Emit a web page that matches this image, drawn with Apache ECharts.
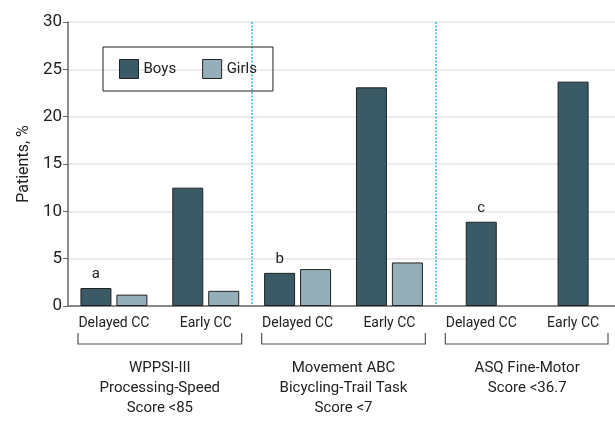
<!DOCTYPE html>
<html>
<head>
<meta charset="utf-8">
<script src="https://cdn.jsdelivr.net/npm/echarts@6/dist/echarts.min.js"></script>
<style>
  html,body{margin:0;padding:0;background:#fff;}
  #chart{width:615px;height:432px;}
</style>
</head>
<body>
<div id="chart"></div>
<script>
// categories
var categories = ['Delayed CC', 'Early CC', 'Delayed CC', 'Early CC', 'Delayed CC', 'Early CC'];
var groupNames = ['WPPSI-III\nProcessing-Speed\nScore <85', 'Movement ABC\nBicycling-Trail Task\nScore <7', 'ASQ Fine-Motor\nScore <36.7'];
// values (% of patients)
var boys = [1.9, 12.5, 3.5, 23.1, null, null];
var girls = [1.2, 1.6, 3.9, 4.6, null, null];
var boysOnly = [null, null, null, null, 8.9, 23.7];
var notes = ['a', '', 'b', '', 'c', ''];

var FONT = 'Roboto';
var BOYS = '#3a5a66', GIRLS = '#95afba';

var chart = echarts.init(document.getElementById('chart'));

function noteLabel(p) { return notes[p.dataIndex] || ''; }

var option = {
  animation: false,
  textStyle: {fontFamily: FONT},
  grid: {left: 68, right: -4, top: 22, bottom: 126, containLabel: false, outerBoundsMode: 'none'},
  legend: {
    left: 103, top: 47,
    width: 172, height: 44,
    padding: [12, 16, 12, 16],
    borderColor: '#222', borderWidth: 1,
    itemWidth: 19, itemHeight: 19, itemGap: 26,
    icon: 'rect',
    data: ['Boys', 'Girls'],
    textStyle: {fontSize: 15, color: '#222', fontFamily: FONT},
    itemStyle: {borderColor: '#222', borderWidth: 1}
  },
  xAxis: [
    {
      type: 'category', data: categories, position: 'bottom',
      axisLine: {lineStyle: {color: '#666', width: 1.5}},
      axisTick: {show: false},
      axisLabel: {color: '#222', fontSize: 14, margin: 10, interval: 0},
      splitLine: {
        show: true,
        interval: function (i) { return i === 2 || i === 4; },
        lineStyle: {color: '#36b1ea', type: [2, 1.5], width: 1.5}
      }
    },
    {
      type: 'category', data: categories, show: false, position: 'bottom'
    },
    {
      type: 'category', data: groupNames, position: 'bottom',
      axisLine: {show: false}, axisTick: {show: false},
      axisLabel: {color: '#222', fontSize: 15, margin: 52, lineHeight: 20, interval: 0}
    }
  ],
  yAxis: {
    type: 'value', min: 0, max: 30, interval: 5,
    name: 'Patients, %', nameLocation: 'middle', nameGap: 28,
    nameTextStyle: {fontSize: 16, color: '#222'},
    axisLine: {show: true, lineStyle: {color: '#666', width: 1.5}},
    axisTick: {show: true, length: 5, lineStyle: {color: '#666'}},
    axisLabel: {color: '#222', fontSize: 17, margin: 6},
    splitLine: {lineStyle: {color: '#e6e6e6', width: 1.5}}
  },
  series: [
    {
      name: 'Boys', type: 'bar', data: boys, barWidth: 31, barGap: '16%',
      itemStyle: {color: BOYS, borderColor: '#222', borderWidth: 1},
      label: {show: true, position: 'top', formatter: noteLabel, fontSize: 15, color: '#222', distance: 6}
    },
    {
      name: 'Girls', type: 'bar', data: girls, barWidth: 31,
      itemStyle: {color: GIRLS, borderColor: '#222', borderWidth: 1}
    },
    {
      name: 'Boys', type: 'bar', data: boysOnly, barWidth: 31, xAxisIndex: 1,
      itemStyle: {color: BOYS, borderColor: '#222', borderWidth: 1},
      label: {show: true, position: 'top', formatter: noteLabel, fontSize: 15, color: '#222', distance: 6}
    }
  ]
};
chart.setOption(option);

// brackets under each group, placed from the group axis
var half = (chart.convertToPixel({xAxisIndex: 2}, 1) - chart.convertToPixel({xAxisIndex: 2}, 0)) / 2;
var y0 = chart.convertToPixel({yAxisIndex: 0}, 0);
var brackets = groupNames.map(function (g, i) {
  var cx = chart.convertToPixel({xAxisIndex: 2}, i);
  var l = cx - half + 10, r = Math.min(cx + half - 10, 608);
  return {
    type: 'polyline',
    shape: {points: [[l, y0 + 27], [l, y0 + 38], [r, y0 + 38], [r, y0 + 27]]},
    style: {stroke: '#555', lineWidth: 1.2, fill: null}
  };
});
chart.setOption({graphic: brackets});
</script>
</body>
</html>
